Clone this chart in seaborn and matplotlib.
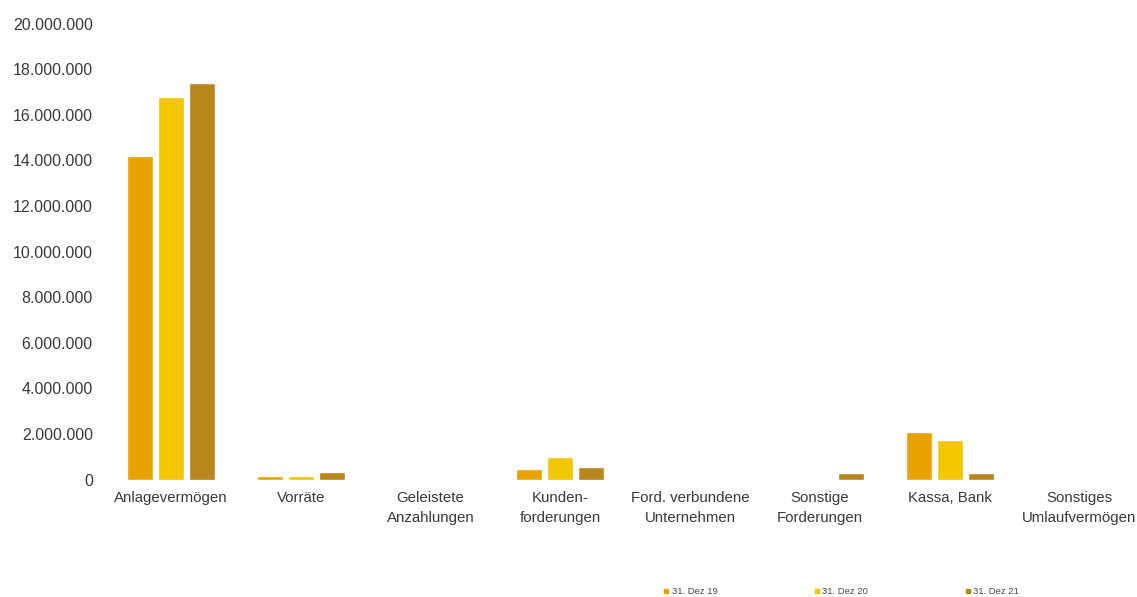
import matplotlib
matplotlib.use("Agg")
import matplotlib.pyplot as plt
from matplotlib.lines import Line2D
from matplotlib.ticker import FuncFormatter
import seaborn as sns
import pandas as pd

categories = [
    "Anlagevermögen",
    "Vorräte",
    "Geleistete\nAnzahlungen",
    "Kunden-\nforderungen",
    "Ford. verbundene\nUnternehmen",
    "Sonstige\nForderungen",
    "Kassa, Bank",
    "Sonstiges\nUmlaufvermögen",
]
series_names = ["31. Dez 19", "31. Dez 20", "31. Dez 21"]
dez19 = [14180000, 150000, 0, 480000, 0, 0, 2080000, 0]
dez20 = [16760000, 150000, 0, 980000, 0, 0, 1750000, 0]
dez21 = [17380000, 320000, 0, 560000, 0, 300000, 300000, 0]
colors = ["#E8A300", "#F2C600", "#B8861C"]
y_ticks = list(range(0, 20000001, 2000000))

df = pd.DataFrame({
    "Kategorie": categories * 3,
    "Stichtag": [s for s in series_names for _ in categories],
    "Wert": dez19 + dez20 + dez21,
})

sns.set_theme(style="white")
plt.rcParams["font.family"] = ["Liberation Sans", "DejaVu Sans"]
text_color = "#3a3a3a"

fig = plt.figure(figsize=(11.37, 5.97), dpi=100)
ax = fig.add_axes([106 / 1137, 117.5 / 597, 1 - 106 / 1137, (479.5 - 23.5) / 597])

sns.barplot(
    data=df, x="Kategorie", y="Wert", hue="Stichtag",
    order=categories, hue_order=series_names, palette=colors,
    width=0.717, gap=0.16, saturation=1, legend=False, ax=ax,
)

ax.set_xlim(-0.5, (1137 - 106) / 129.8 - 0.5)
ax.set_ylim(0, 20000000)
ax.set_yticks(y_ticks)
ax.yaxis.set_major_formatter(FuncFormatter(lambda v, _: f"{int(v):,}".replace(",", ".")))
ax.set_xlabel("")
ax.set_ylabel("")
for s in ax.spines.values():
    s.set_visible(False)
ax.tick_params(axis="y", length=0, pad=9.5, labelsize=11.5, labelcolor=text_color)
ax.tick_params(axis="x", length=0, pad=8.5, labelsize=10.8, labelcolor=text_color)
for lbl in ax.get_xticklabels():
    lbl.set_linespacing(1.5)
ax.grid(False)

handles = [
    Line2D([], [], marker="s", linestyle="none", markersize=2.2,
           markerfacecolor=c, markeredgecolor=c)
    for c in colors
]
fig.legend(
    handles, series_names, loc="center left", ncol=3,
    bbox_to_anchor=(664 / 1137, 1 - 592 / 597), frameon=False,
    fontsize=6.8, handlelength=0.5, handletextpad=0.3, columnspacing=10.3,
    labelcolor="#4a4a4a", borderpad=0, borderaxespad=0,
)

fig.savefig("out.png", dpi=100, facecolor="white")
